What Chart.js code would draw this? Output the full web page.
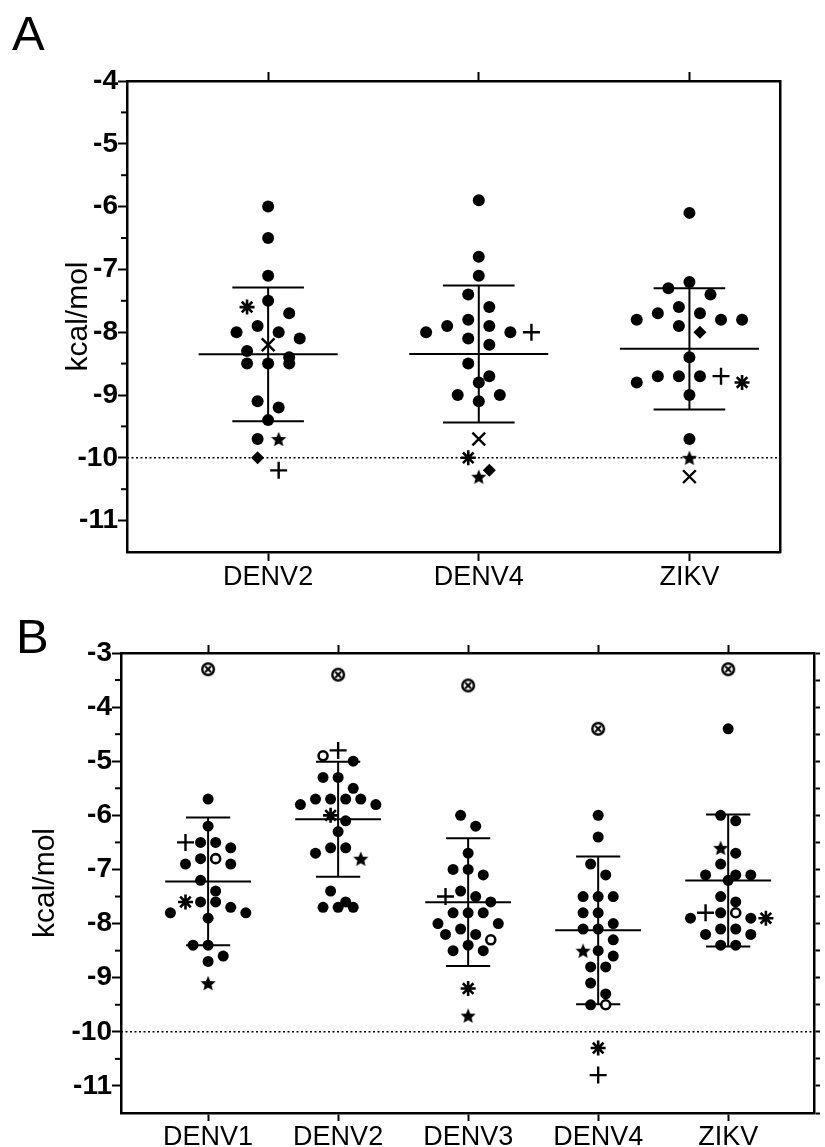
<!DOCTYPE html>
<html>
<head>
<meta charset="utf-8">
<script src="https://cdn.jsdelivr.net/npm/chart.js@4.4.1/dist/chart.umd.min.js"></script>
<style>
  body { margin: 0; background: #fff; width: 825px; height: 1147px; position: relative; overflow: hidden;
         font-family: "Liberation Sans", Arial, sans-serif; }
  canvas { position: absolute; left: 0; }
  #chartA { top: 0; }
  #chartB { top: 600px; }
  .panel { position: absolute; font-size: 49px; line-height: 1; color: #000; }
</style>
</head>
<body>
<div class="panel" style="left:12px;top:9px">A</div>
<div class="panel" style="left:16px;top:612px">B</div>
<canvas id="chartA" width="825" height="600"></canvas>
<canvas id="chartB" width="825" height="547"></canvas>
<script>
// ---- panel A data (kcal/mol) ----
const catsA = ['DENV2', 'DENV4', 'ZIKV'];
const dotsA = [
  [-6.0, -6.5, -7.1, -7.5, -7.7, -7.9, -8.0, -8.0, -8.1, -8.3, -8.4, -8.5, -8.5, -8.5, -9.1, -9.2, -9.4, -9.7],
  [-5.9, -6.8, -7.1, -7.4, -7.6, -7.8, -7.9, -7.9, -8.0, -8.0, -8.1, -8.2, -8.5, -8.7, -8.8, -9.0, -9.0, -9.1],
  [-6.1, -7.2, -7.3, -7.4, -7.6, -7.7, -7.7, -7.8, -7.8, -7.8, -7.9, -8.4, -8.7, -8.7, -8.7, -8.8, -9.0, -9.7]
];
const asteriskA = [-7.6, -10.0, -8.8];
const crossA = [-8.2, -9.7, -10.3];
const starA = [-9.7, -10.3, -10.0];
const diamondA = [-10.0, -10.2, -8.0];
const plusA = [-10.2, -8.0, -8.7];
const yTicksA = [-11, -10, -9, -8, -7, -6, -5, -4];

// ---- panel B data (kcal/mol) ----
const catsB = ['DENV1', 'DENV2', 'DENV3', 'DENV4', 'ZIKV'];
const dotsB = [
  [-5.7, -6.2, -6.5, -6.5, -6.6, -6.8, -6.9, -6.9, -7.2, -7.4, -7.6, -7.6, -7.7, -7.8, -7.8, -7.9, -8.4, -8.4, -8.6, -8.7],
  [-5.0, -5.3, -5.3, -5.5, -5.7, -5.7, -5.7, -5.7, -5.8, -5.8, -6.1, -6.3, -6.6, -6.6, -6.7, -7.4, -7.6, -7.7, -7.7, -7.7],
  [-6.0, -6.2, -6.7, -7.0, -7.0, -7.1, -7.4, -7.5, -7.6, -7.8, -7.8, -7.8, -8.0, -8.0, -8.1, -8.2, -8.2, -8.4, -8.5, -8.5],
  [-6.0, -6.4, -6.9, -7.1, -7.5, -7.5, -7.5, -7.8, -7.8, -8.0, -8.1, -8.1, -8.3, -8.5, -8.6, -8.8, -8.8, -9.1, -9.3, -9.5],
  [-4.4, -6.0, -6.1, -6.7, -6.9, -7.1, -7.1, -7.1, -7.2, -7.5, -7.6, -7.8, -7.9, -7.9, -8.1, -8.1, -8.2, -8.2, -8.4, -8.4]
];
const otimesB = [-3.3, -3.4, -3.6, -4.4, -3.3];
const openB = [-6.8, -4.9, -8.3, -9.5, -7.8];
const plusB = [-6.5, -4.8, -7.5, -10.8, -7.8];
const asteriskB = [-7.6, -6.0, -9.2, -10.3, -7.9];
const starB = [-9.1, -6.8, -9.7, -8.5, -6.6];
const yTicksB = [-11, -10, -9, -8, -7, -6, -5, -4, -3];

const threshold = -10;

// little canvases used as point styles
function starImg(r) {
  const s = Math.ceil(r * 2) + 2, c = document.createElement('canvas');
  c.width = c.height = s;
  const g = c.getContext('2d');
  g.translate(s / 2, s / 2 + r * 0.1);
  g.beginPath();
  for (let k = 0; k < 10; k++) {
    const rr = k % 2 ? r * 0.45 : r, a = -Math.PI / 2 + k * Math.PI / 5;
    g.lineTo(rr * Math.cos(a), rr * Math.sin(a));
  }
  g.closePath(); g.fillStyle = '#000'; g.fill();
  return c;
}
function otimesImg(r) {
  const s = Math.ceil(r * 2) + 2, c = document.createElement('canvas');
  c.width = c.height = s;
  const g = c.getContext('2d'), m = s / 2, d = r * 0.42;
  g.strokeStyle = '#000'; g.lineWidth = 2.4;
  g.beginPath(); g.arc(m, m, r - 1.2, 0, Math.PI * 2); g.stroke();
  g.lineWidth = 2;
  g.beginPath(); g.moveTo(m - d, m - d); g.lineTo(m + d, m + d); g.moveTo(m + d, m - d); g.lineTo(m - d, m + d); g.stroke();
  return c;
}

// GraphPad-like scatter: values close together share a row and are spread sideways
function spread(groups, rowSpan, lane) {
  // groups[i] = [{v, kind}], returns {kind: [{x,y}]}
  const out = {};
  groups.forEach((pts, i) => {
    const sorted = pts.slice().sort((a, b) => b.v - a.v);
    const rows = [];
    sorted.forEach(p => {
      const row = rows[rows.length - 1];
      if (row && row[0].v - p.v < rowSpan - 1e-9) row.push(p); else rows.push([p]);
    });
    rows.forEach(row => {
      const n = row.length;
      const slots = [];
      for (let k = 0; k < n; k++) slots.push(2 * k - (n - 1));
      slots.sort((a, b) => Math.abs(a) - Math.abs(b) || a - b);
      row.forEach((p, k) => {
        (out[p.kind] = out[p.kind] || []).push({ x: i + 1 + slots[k] * lane, y: p.v });
      });
    });
  });
  return out;
}

function collect(dots, extra) {
  return dots.map((arr, i) => {
    const g = arr.map(v => ({ v, kind: 'dot' }));
    Object.keys(extra).forEach(k => g.push({ v: extra[k][i], kind: k }));
    return g;
  });
}

function meanSdPlugin(groups) {
  return {
    id: 'meanSd',
    beforeDatasetsDraw(chart) {
      const { ctx, scales: { x, y } } = chart;
      ctx.save();
      ctx.strokeStyle = '#000';
      ctx.lineWidth = 2;
      groups.forEach((g, i) => {
        const vals = g.map(p => p.v);
        const n = vals.length;
        const m = vals.reduce((a, b) => a + b, 0) / n;
        const sd = Math.sqrt(vals.reduce((a, b) => a + (b - m) * (b - m), 0) / (n - 1));
        const c = i + 1;
        const h = (x0, x1, v) => {
          ctx.beginPath();
          ctx.moveTo(x.getPixelForValue(x0), y.getPixelForValue(v));
          ctx.lineTo(x.getPixelForValue(x1), y.getPixelForValue(v));
          ctx.stroke();
        };
        ctx.beginPath();
        ctx.moveTo(x.getPixelForValue(c), y.getPixelForValue(m + sd));
        ctx.lineTo(x.getPixelForValue(c), y.getPixelForValue(m - sd));
        ctx.stroke();
        h(c - 0.33, c + 0.33, m);
        h(c - 0.17, c + 0.17, m + sd);
        h(c - 0.17, c + 0.17, m - sd);
      });
      ctx.restore();
    }
  };
}

// short ticks at the half units of the left axis
const minorTicks = {
  id: 'minorTicks',
  afterDraw(chart) {
    const { ctx, chartArea, scales: { y } } = chart;
    ctx.save();
    ctx.strokeStyle = '#000';
    ctx.lineWidth = 2;
    for (let v = Math.ceil(y.min) - 0.5; v < y.max; v += 1) {
      if (v <= y.min) continue;
      const py = y.getPixelForValue(v);
      ctx.beginPath();
      ctx.moveTo(chartArea.left - 6, py);
      ctx.lineTo(chartArea.left, py);
      ctx.stroke();
    }
    ctx.restore();
  }
};

function makeChart(id, cfg) {
  const cats = cfg.cats;
  const catTicks = s => { s.ticks = cats.map((c, i) => ({ value: i + 1 })); };
  const yTicks = s => { s.ticks = cfg.yTicks.map(v => ({ value: v })); };
  const axisLine = { color: '#000', width: 2.5 };
  const tickGrid = len => ({ drawOnChartArea: false, drawTicks: true, tickLength: len, tickWidth: 2, tickColor: '#000', color: '#000' });
  const datasets = cfg.datasets.concat([{
    data: [{ x: cfg.xMin, y: threshold }, { x: cfg.xMax, y: threshold }],
    showLine: true, pointRadius: 0, borderColor: '#000', borderWidth: 1.6, borderDash: [2, 2.5]
  }]);
  return new Chart(document.getElementById(id), {
    type: 'scatter',
    data: { datasets },
    options: {
      responsive: false,
      devicePixelRatio: 1,
      animation: false,
      events: [],
      layout: { padding: cfg.padding },
      plugins: { legend: { display: false }, tooltip: { enabled: false } },
      scales: {
        x: {
          type: 'linear', position: 'bottom', min: cfg.xMin, max: cfg.xMax,
          afterBuildTicks: catTicks,
          afterFit: s => { s.height = cfg.xHeight; },
          grid: tickGrid(cfg.xTick), border: axisLine,
          ticks: { callback: v => cats[Math.round(v) - 1], autoSkip: false, maxRotation: 0, padding: 0,
                   color: '#000', font: { family: '"Liberation Sans", Arial', size: cfg.catSize } }
        },
        x2: {
          type: 'linear', position: 'top', min: cfg.xMin, max: cfg.xMax,
          afterBuildTicks: catTicks,
          afterFit: s => { s.height = 40; },
          grid: tickGrid(cfg.xTick), border: axisLine,
          ticks: { display: false }
        },
        y: {
          type: 'linear', position: 'left', min: cfg.yMin, max: cfg.yMax,
          afterBuildTicks: yTicks,
          afterFit: s => { s.width = cfg.yWidth; },
          grid: tickGrid(9), border: axisLine,
          ticks: { padding: 0, color: '#000', callback: v => String(v),
                   font: { family: '"Liberation Sans", Arial', size: 28, weight: 'bold' } },
          title: { display: true, text: 'kcal/mol', color: '#000',
                   font: { family: '"Liberation Sans", Arial', size: 30 } }
        },
        y2: {
          type: 'linear', position: 'right', min: cfg.yMin, max: cfg.yMax,
          afterBuildTicks: s => {
            const t = [];
            if (cfg.rightTicks) for (let v = cfg.yMax; v >= cfg.yMin; v -= 0.5) t.push({ value: v });
            s.ticks = t;
          },
          afterFit: s => { s.width = cfg.y2Width; },
          grid: Object.assign(tickGrid(cfg.rightTicks ? 6 : 0), { display: cfg.rightTicks }),
          border: axisLine,
          ticks: { display: false }
        }
      }
    },
    plugins: [meanSdPlugin(cfg.groups), minorTicks]
  });
}

function symbolSets(pts, r, extras) {
  const sets = [{ data: pts.dot, pointStyle: 'circle', pointRadius: r, backgroundColor: '#000', borderWidth: 0 }];
  extras.forEach(e => sets.push(Object.assign({ data: pts[e.kind] || [], borderColor: '#000', backgroundColor: '#000' }, e.style)));
  return sets;
}

// ---- panel A ----
const groupsA = collect(dotsA, { asterisk: asteriskA, cross: crossA, star: starA, diamond: diamondA, plus: plusA });
const ptsA = spread(groupsA, 0.3, 0.05);
makeChart('chartA', {
  cats: catsA, groups: groupsA, yTicks: yTicksA,
  xMin: 0.33, xMax: 3.43, yMin: -11.5, yMax: -4,
  padding: { left: 57, top: 41, right: 44, bottom: 0 },
  xHeight: 48, yWidth: 70, y2Width: 1, xTick: 9, catSize: 27, rightTicks: false,
  datasets: symbolSets(ptsA, 6, [
    { kind: 'asterisk', style: { pointStyle: 'star', pointRadius: 7.5, borderWidth: 2.6 } },
    { kind: 'cross', style: { pointStyle: 'crossRot', pointRadius: 9, borderWidth: 2.4 } },
    { kind: 'star', style: { pointStyle: starImg(8) } },
    { kind: 'diamond', style: { pointStyle: 'rectRot', pointRadius: 6.5, borderWidth: 0 } },
    { kind: 'plus', style: { pointStyle: 'cross', pointRadius: 8.5, borderWidth: 2.4 } }
  ])
});

// ---- panel B ----
const groupsB = collect(dotsB, { otimes: otimesB, open: openB, plus: plusB, asterisk: asteriskB, star: starB });
const ptsB = spread(groupsB, 0.3, 0.058);
makeChart('chartB', {
  cats: catsB, groups: groupsB, yTicks: yTicksB,
  xMin: 0.33, xMax: 5.66, yMin: -11.5, yMax: -3,
  padding: { left: 24, top: 13, right: 4, bottom: 0 },
  xHeight: 34, yWidth: 97, y2Width: 7, xTick: 8, catSize: 27, rightTicks: true,
  datasets: symbolSets(ptsB, 5.5, [
    { kind: 'otimes', style: { pointStyle: otimesImg(7) } },
    { kind: 'open', style: { pointStyle: 'circle', pointRadius: 4.5, borderWidth: 2.6, backgroundColor: '#fff' } },
    { kind: 'plus', style: { pointStyle: 'cross', pointRadius: 8.5, borderWidth: 2.4 } },
    { kind: 'asterisk', style: { pointStyle: 'star', pointRadius: 7.5, borderWidth: 2.6 } },
    { kind: 'star', style: { pointStyle: starImg(8) } }
  ])
});
</script>
</body>
</html>
